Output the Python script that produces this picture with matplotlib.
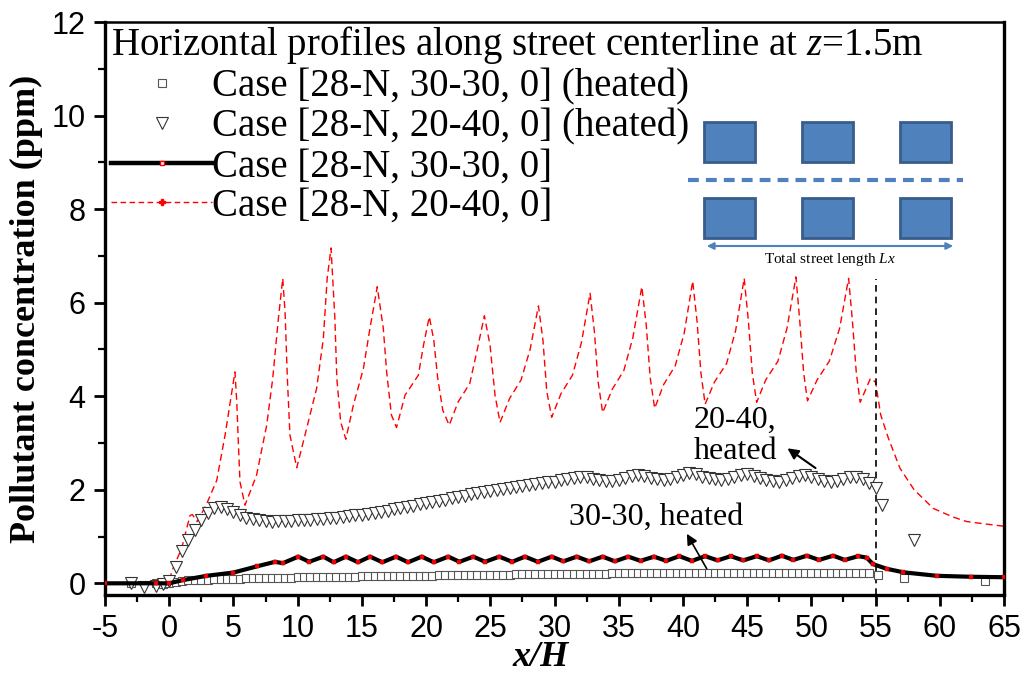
import numpy as np
import matplotlib
matplotlib.use('Agg')
import matplotlib.pyplot as plt
from matplotlib.lines import Line2D
from matplotlib.patches import Rectangle

plt.rcParams['font.family'] = ['Liberation Serif', 'DejaVu Serif']
plt.rcParams['mathtext.fontset'] = 'custom'
plt.rcParams['mathtext.rm'] = 'Liberation Serif'
plt.rcParams['mathtext.it'] = 'Liberation Serif:italic'
plt.rcParams['axes.unicode_minus'] = False

# Case [28-N, 20-40, 0] (no heating), red dashed
red_x = [-5, -1, 0, 0.19, 0.97, 1.62, 1.8, 2.18, 2.87, 3.7, 4.35, 5.12, 5.26, 5.38, 5.51, 5.9,
         6.8, 7.59, 8.06, 8.5, 8.84, 9.02, 9.2, 9.4, 9.93, 10.7, 11.48, 12.0, 12.3, 12.6,
         12.9, 13.05, 13.35, 13.75, 14.34, 15.12, 15.63, 16.2, 16.67, 16.93, 17.3, 17.7,
         18.36, 19.4, 19.8, 20.25, 20.6, 20.9, 21.3, 21.8, 22.5, 23.4, 23.95, 24.54, 24.98,
         25.37, 25.76, 26.5, 27.4, 28.1, 28.75, 29.1, 29.4, 29.78, 30.5, 31.4, 32.1, 32.77,
         33.1, 33.4, 33.75, 34.5, 35.4, 36.1, 36.8, 37.15, 37.45, 37.8, 38.5, 39.4, 40.1,
         40.76, 41.1, 41.4, 41.73, 42.45, 43.4, 44.1, 44.77, 45.1, 45.4, 45.74, 46.45, 47.4,
         48.1, 48.8, 49.1, 49.4, 49.7, 50.45, 51.4, 52.2, 52.9, 53.2, 53.5, 53.8, 54.6, 55.0,
         55.4, 56.0, 56.9, 58.0, 59.5, 61.0, 62.1, 63.5, 65.0]
red_y = [0, 0, 0.02, 0.25, 0.75, 1.45, 1.47, 1.32, 1.67, 2.2, 3.17, 4.52, 3.88, 3.03, 2.17, 1.67,
         2.31, 3.38, 4.38, 5.66, 6.52, 5.8, 4.38, 3.17, 2.47, 3.31, 4.17, 5.23, 6.52, 7.17,
         5.66, 4.38, 3.45, 3.08, 3.81, 4.59, 5.45, 6.34, 5.45, 4.52, 3.6, 3.33,
         4.02, 4.45, 5.09, 5.70, 5.2, 4.4, 3.7, 3.38, 3.88, 4.27, 4.95, 5.72, 5.09,
         4.02, 3.44, 3.95, 4.35, 5.0, 5.93, 5.2, 4.1, 3.55, 4.05, 4.45, 5.15, 6.20,
         5.4, 4.3, 3.65, 4.15, 4.55, 5.25, 6.34, 5.5, 4.4, 3.74, 4.25, 4.65, 5.35,
         6.46, 5.6, 4.5, 3.83, 4.3, 4.7, 5.4, 6.52, 5.6, 4.5, 3.87, 4.35, 4.75,
         5.45, 6.55, 5.6, 4.5, 3.9, 4.35, 4.75, 5.45, 6.52, 5.6, 4.5, 3.87, 4.38, 4.3,
         3.6, 3.1, 2.46, 2.0, 1.6, 1.42, 1.32, 1.27, 1.22]

# Case [28-N, 30-30, 0] (no heating), thick black
blk_x = [-5, -1, 0, 1.1, 2.9, 5.0, 6.8, 8.24, 8.84, 10.05, 10.9, 12.0, 12.8, 13.76, 14.7,
         15.64, 16.6, 17.66, 18.6, 19.66, 20.6, 21.73, 22.6, 23.68, 24.6, 25.7, 26.7, 27.7,
         28.7, 29.78, 30.7, 31.73, 32.7, 33.75, 34.7, 35.75, 36.7, 37.75, 38.7, 39.72, 40.7,
         41.73, 42.7, 43.72, 44.7, 45.75, 46.7, 47.7, 48.6, 49.65, 50.6, 51.7, 52.6, 53.66,
         54.3, 54.8, 55.87, 57.17, 59.77, 62.4, 65.0]
blk_y = [0, 0, 0, 0.07, 0.16, 0.23, 0.36, 0.46, 0.43, 0.57, 0.46, 0.57, 0.45, 0.57, 0.45,
         0.57, 0.45, 0.57, 0.45, 0.57, 0.45, 0.57, 0.46, 0.57, 0.46, 0.57, 0.46, 0.57,
         0.46, 0.57, 0.47, 0.57, 0.47, 0.57, 0.47, 0.57, 0.48, 0.57, 0.48, 0.58, 0.48,
         0.58, 0.49, 0.58, 0.49, 0.58, 0.49, 0.59, 0.50, 0.59, 0.50, 0.59, 0.50, 0.58,
         0.55, 0.41, 0.31, 0.235, 0.16, 0.14, 0.13]

# heated cases, sampled every 0.5 x/H inside the street
street_x = np.arange(0, 55, 0.5)

sq_in = [0.00, 0.03, 0.05, 0.06, 0.07, 0.08, 0.08, 0.09, 0.09, 0.10,
         0.10, 0.10, 0.11, 0.11, 0.11, 0.12, 0.12, 0.12, 0.12, 0.12,
         0.13, 0.13, 0.13, 0.13, 0.14, 0.14, 0.14, 0.14, 0.14, 0.14,
         0.15, 0.15, 0.15, 0.15, 0.15, 0.15, 0.16, 0.16, 0.16, 0.16,
         0.16, 0.16, 0.17, 0.17, 0.17, 0.17, 0.17, 0.17, 0.18, 0.18,
         0.18, 0.18, 0.18, 0.18, 0.19, 0.19, 0.19, 0.19, 0.19, 0.19,
         0.19, 0.20, 0.20, 0.20, 0.20, 0.20, 0.20, 0.20, 0.20, 0.21,
         0.21, 0.21, 0.21, 0.21, 0.21, 0.21, 0.21, 0.21, 0.21, 0.21,
         0.21, 0.21, 0.21, 0.21, 0.21, 0.22, 0.22, 0.22, 0.22, 0.22,
         0.22, 0.22, 0.22, 0.22, 0.22, 0.22, 0.22, 0.22, 0.23, 0.23,
         0.23, 0.23, 0.23, 0.23, 0.23, 0.23, 0.23, 0.23, 0.23, 0.22]
sq_x = [-3, -1, -0.5] + list(street_x) + [55.2, 57.2, 63.5]
sq_y = [0.0, 0.0, -0.02] + sq_in + [0.18, 0.12, 0.04]

tri_in = [0.05, 0.34, 0.70, 0.93, 1.15, 1.36, 1.50, 1.60, 1.63, 1.58,
          1.52, 1.45, 1.40, 1.37, 1.35, 1.33, 1.32, 1.33, 1.33, 1.34,
          1.35, 1.35, 1.36, 1.37, 1.38, 1.39, 1.40, 1.42, 1.43, 1.45,
          1.47, 1.49, 1.51, 1.53, 1.55, 1.58, 1.60, 1.63, 1.66, 1.69,
          1.72, 1.74, 1.77, 1.79, 1.82, 1.85, 1.87, 1.90, 1.93, 1.96,
          1.98, 2.00, 2.02, 2.04, 2.06, 2.08, 2.10, 2.12, 2.14, 2.16,
          2.17, 2.20, 2.23, 2.25, 2.27, 2.28, 2.24, 2.21, 2.19, 2.18,
          2.21, 2.25, 2.29, 2.32, 2.30, 2.26, 2.23, 2.21, 2.24, 2.28,
          2.31, 2.35, 2.33, 2.28, 2.25, 2.22, 2.20, 2.24, 2.28, 2.32,
          2.34, 2.30, 2.25, 2.21, 2.18, 2.17, 2.21, 2.26, 2.30, 2.32,
          2.28, 2.22, 2.18, 2.16, 2.19, 2.24, 2.28, 2.27, 2.22, 2.14]
tri_x = [-3, -2, -1, -0.5] + list(street_x) + [55.0, 55.5, 58.0]
tri_y = [0.0, -0.07, -0.05, -0.02] + tri_in + [2.03, 1.67, 0.93]

labels = ['Case [28-N, 30-30, 0] (heated)', 'Case [28-N, 20-40, 0] (heated)',
          'Case [28-N, 30-30, 0]', 'Case [28-N, 20-40, 0]']

fig = plt.figure(figsize=(10.24, 6.75), dpi=100)
ax = fig.add_axes([105/1024, 1 - 595/675, 899/1024, 573/675])

ax.plot(sq_x, sq_y, ls='none', marker='s', ms=5.5, mfc='white', mec='#555555', mew=0.8, zorder=3)
ax.plot(tri_x, tri_y, ls='none', marker='v', ms=8.5, mfc='white', mec='#333333', mew=0.8, zorder=3)
ax.plot(blk_x, blk_y, color='black', lw=3, marker='s', ms=2.2, mfc='red', mec='#aa0000',
        mew=0.3, zorder=4)
ax.plot(red_x, red_y, color='red', lw=1.0, ls=(0, (5, 3)), zorder=2)

ax.vlines(55, -0.25, 6.5, colors='black', linestyles=(0, (4, 3)), lw=1.2, zorder=2)

ax.set_xlim(-5, 65)
ax.set_ylim(-0.25, 12)
ax.set_xticks(np.arange(-5, 66, 5))
ax.set_xticks(np.arange(-2.5, 65, 5), minor=True)
ax.set_yticks(np.arange(0, 13, 2))
ax.set_yticks(np.arange(1, 12, 2), minor=True)
ax.tick_params(which='major', direction='out', length=8, width=2, labelsize=22, pad=6)
ax.tick_params(which='minor', direction='out', length=5, width=1.6)
for lab in ax.get_xticklabels() + ax.get_yticklabels():
    lab.set_fontfamily(['Liberation Sans Narrow', 'Liberation Sans'])
for side in ['left', 'right', 'bottom']:
    ax.spines[side].set_linewidth(2.4)
ax.spines['top'].set_linewidth(1.8)

ax.set_ylabel('Pollutant concentration (ppm)', fontsize=26, fontweight='bold', labelpad=6)
fig.text(541/1024, 1 - 658/675, 'x/H', fontsize=26, fontweight='bold', fontstyle='italic',
         ha='center', va='center')

handles = [
    Line2D([], [], ls='none', marker='s', ms=5.5, mfc='white', mec='#555555', mew=0.8),
    Line2D([], [], ls='none', marker='v', ms=8.5, mfc='white', mec='#333333', mew=0.8),
    Line2D([], [], color='black', lw=3.2, marker='s', ms=3.5, mfc='white', mec='red', mew=1),
    Line2D([], [], color='red', lw=1, ls=(0, (4, 2.5)), marker='P', ms=4, mfc='red', mec='red'),
]
ax.legend(handles, labels, title='Horizontal profiles along street centerline at $z$=1.5m',
          loc='upper left', bbox_to_anchor=(111/1024, 1 - 24/675), bbox_transform=fig.transFigure,
          frameon=False, fontsize=28, title_fontsize=28, handlelength=2.6, handletextpad=0.0,
          labelspacing=0.07, borderpad=0, borderaxespad=0, alignment='left')

# annotations for the heated cases
ax.annotate('', xy=(47.96, 2.92), xytext=(50.5, 2.43),
            arrowprops=dict(arrowstyle='-|>', color='black', lw=1.5, mutation_scale=16))
ax.text(40.8, 3.15, '20-40,\nheated', fontsize=23, ha='left', va='center', linespacing=1.1)
ax.annotate('', xy=(40.2, 1.11), xytext=(41.96, 0.26),
            arrowprops=dict(arrowstyle='-|>', color='black', lw=1.2, mutation_scale=16))
ax.text(31.1, 1.4, '30-30, heated', fontsize=23, ha='left', va='center')

# street layout sketch, drawn in pixel-like units
sk = fig.add_axes([680/1024, 1 - 275/675, 300/1024, 165/675])
sk.set_xlim(680, 980)
sk.set_ylim(275, 110)
sk.axis('off')
block_left = [704, 802, 900]
block_top = [122, 198]
for bx in block_left:
    for by in block_top:
        sk.add_patch(Rectangle((bx, by), 51, 40, facecolor='#4F81BD', edgecolor='#385D8A', lw=2))
sk.plot([688, 963], [180, 180], color='#4F81BD', lw=3, ls=(0, (2.6, 1.7)))
sk.annotate('', xy=(704, 246), xytext=(956, 246),
            arrowprops=dict(arrowstyle='<|-|>', color='#4F81BD', lw=1.5, mutation_scale=10))
sk.text(830, 259, 'Total street length $Lx$', fontsize=11, ha='center', va='center')

fig.savefig('out.png', dpi=100)
